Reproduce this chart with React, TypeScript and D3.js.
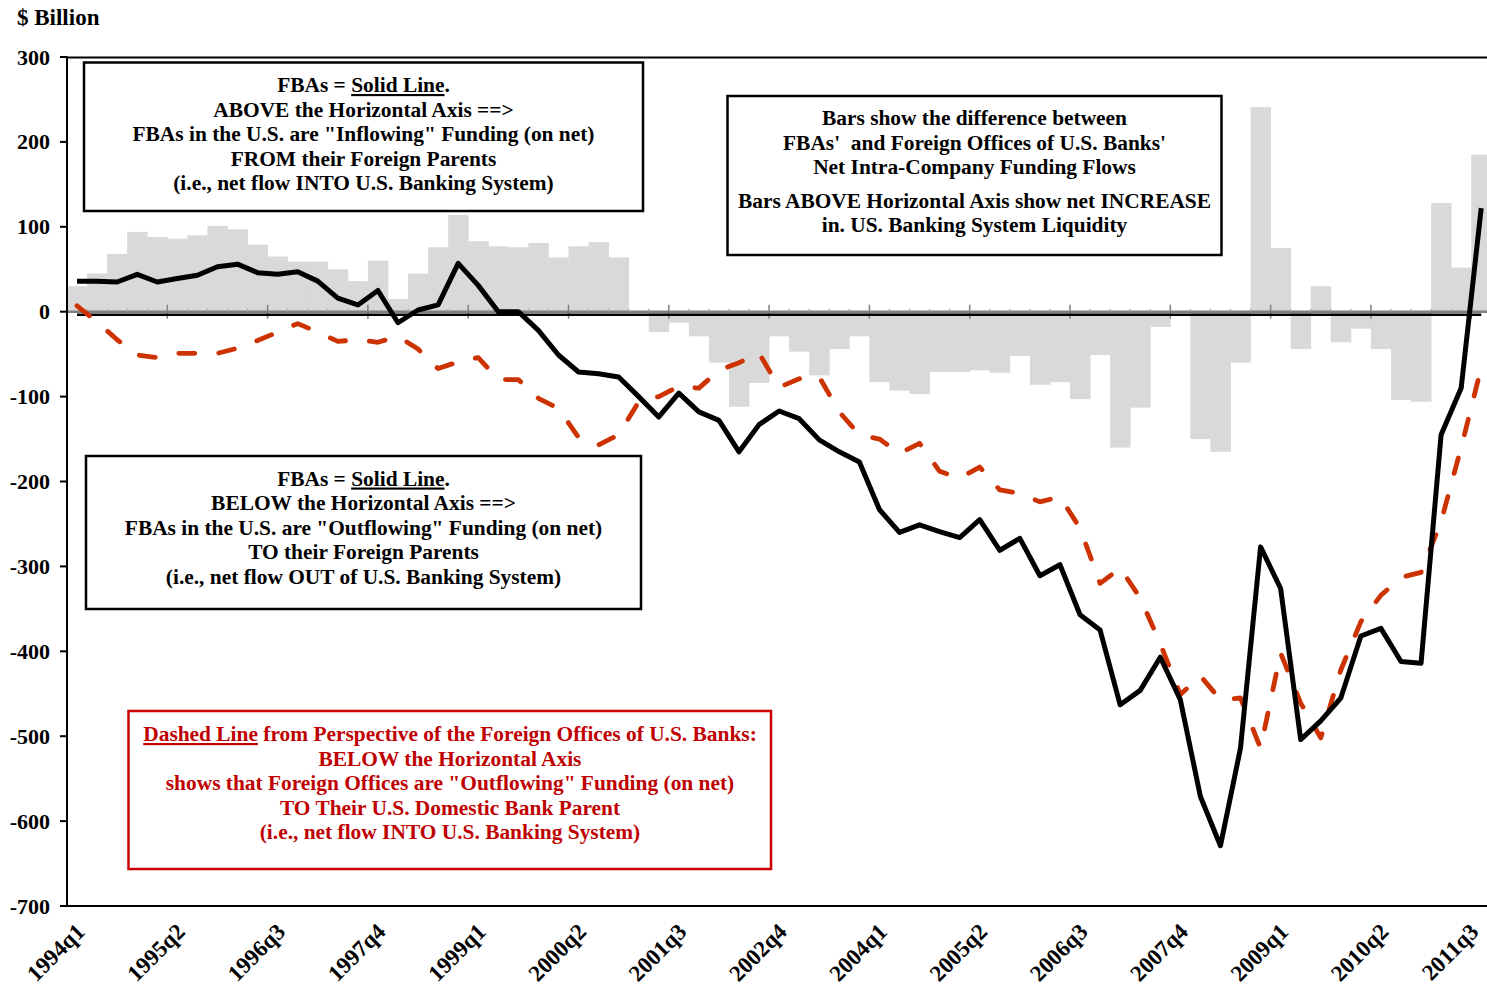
import React from 'react';
import * as d3 from 'd3';

// quarterly categories 1994q1 .. 2011q3
const quarters: string[] = d3.range(1994, 2012).flatMap(yr => [1, 2, 3, 4].map(q => `${yr}q${q}`)).slice(0, 71);

const tickLabels = ['1994q1', '1995q2', '1996q3', '1997q4', '1999q1', '2000q2', '2001q3', '2002q4',
  '2004q1', '2005q2', '2006q3', '2007q4', '2009q1', '2010q2', '2011q3'];

// bars: difference between FBAs and foreign offices of U.S. banks
const diffBars = [30, 45, 68, 94, 88, 86, 90, 101, 97, 79, 65, 59, 59, 50, 36, 60, 15, 45, 76, 114,
  83, 77, 76, 81, 64, 77, 82, 64, 0, -24, -13, -29, -60, -112, -84, -29, -47, -75, -44, -29,
  -83, -93, -97, -71, -71, -69, -72, -52, -86, -83, -103, -51, -160, -113, -18, 0, -150, -165, -60, 241,
  75, -44, 30, -36, -20, -44, -104, -106, 128, 52, 185];

// solid line: FBAs
const fbaLine = [36, 36, 35, 44, 35, 39, 43, 53, 56, 46, 44, 47, 36, 16, 8, 25, -13, 2, 8, 57,
  31, 0, 0, -22, -51, -71, -73, -77, -100, -124, -96, -118, -128, -165, -133, -117, -126, -151, -165, -177,
  -233, -260, -251, -259, -266, -245, -281, -267, -311, -298, -357, -375, -463, -446, -407, -457, -571, -629, -514, -277,
  -326, -504, -482, -455, -382, -373, -412, -414, -145, -90, 122];

// dashed line: foreign offices of U.S. banks
const foreignLine = [7, -12, -33, -51, -54, -49, -49, -49, -43, -34, -24, -14, -24, -35, -33, -36, -29, -44, -67, -59,
  -54, -80, -80, -102, -114, -148, -157, -145, -106, -100, -88, -90, -69, -60, -49, -89, -79, -77, -118, -145,
  -150, -167, -155, -188, -196, -183, -210, -214, -224, -218, -255, -320, -302, -337, -391, -451, -429, -457, -455, -514,
  -402, -461, -502, -422, -365, -334, -313, -307, -247, -160, -66];

const boxTopLines = ['ABOVE the Horizontal Axis ==>', 'FBAs in the U.S. are "Inflowing" Funding (on net)',
  'FROM their Foreign Parents', '(i.e., net flow INTO U.S. Banking System)'];
const boxBottomLines = ['BELOW the Horizontal Axis ==>', 'FBAs in the U.S. are "Outflowing" Funding (on net)',
  'TO their Foreign Parents', '(i.e., net flow OUT of U.S. Banking System)'];
const boxBarsLines = ['Bars show the difference between', "FBAs'  and Foreign Offices of U.S. Banks'",
  'Net Intra-Company Funding Flows', 'Bars ABOVE Horizontal Axis show net INCREASE', 'in. US. Banking System Liquidity'];
const boxRedLines = ['BELOW the Horizontal Axis', 'shows that Foreign Offices are "Outflowing" Funding (on net)',
  'TO Their U.S. Domestic Bank Parent', '(i.e., net flow INTO U.S. Banking System)'];

const FONT = "'Liberation Serif', 'Times New Roman', serif";

export default function App() {
  const W = 1487;
  const H = 988;
  const left = 67;
  const x = d3.scaleBand<string>().domain(quarters).range([left, left + 71 * 20.06]).padding(0);
  const bw = x.bandwidth();
  const y = d3.scaleLinear().domain([-700, 300]).range([906, 57]);
  const y0 = y(0);
  const cx = (i: number) => (x(quarters[i]) as number) + bw / 2;

  const line = d3.line<number>().x((d, i) => cx(i)).y(d => y(d));

  const textStyle = { fontFamily: FONT, fontWeight: 700, fontSize: 21.4 } as React.CSSProperties;
  const axisStyle = { fontFamily: FONT, fontWeight: 700, fontSize: 22 } as React.CSSProperties;

  return (
    <svg width={W} height={H} style={{ position: 'absolute', left: 0, top: 0, background: '#fff' }}>
      <rect width={W} height={H} fill="#fff" />

      {/* bars */}
      {diffBars.map((v, i) => (
        <rect key={i} x={x(quarters[i])} width={bw + 0.4} y={Math.min(y(v), y0)}
          height={Math.abs(y(v) - y0)} fill="#d9d9d9" />
      ))}

      {/* category axis (gray) with ticks */}
      <line x1={left} x2={W} y1={y0} y2={y0} stroke="#808080" strokeWidth={2.5} />
      {quarters.map((q, i) => {
        const xx = x(q) as number;
        const major = i % 5 === 0;
        return major
          ? <line key={q} x1={xx} x2={xx} y1={y0 - 7} y2={y0 + 7} stroke="#808080" strokeWidth={1.5} />
          : <line key={q} x1={xx} x2={xx} y1={y0 - 3} y2={y0} stroke="#a0a0a0" strokeWidth={1} />;
      })}
      <line x1={cx(0)} x2={cx(70)} y1={y0 + 3} y2={y0 + 3} stroke="#000" strokeWidth={2.5} />

      {/* frame */}
      <line x1={left} x2={W} y1={57.5} y2={57.5} stroke="#000" strokeWidth={2} />
      <line x1={left} x2={W} y1={906} y2={906} stroke="#000" strokeWidth={2} />
      <line x1={left} x2={left} y1={56.5} y2={907} stroke="#000" strokeWidth={2} />

      {/* y axis ticks and labels */}
      {y.ticks(10).map(t => (
        <g key={t}>
          <line x1={60} x2={left} y1={y(t)} y2={y(t)} stroke="#000" strokeWidth={2} />
          <text x={50} y={y(t) + 7.5} textAnchor="end" style={axisStyle}>{t}</text>
        </g>
      ))}
      <text x={17} y={25} style={{ ...axisStyle, fontSize: 23 }}>$ Billion</text>

      {/* x labels */}
      {tickLabels.map(lbl => {
        const i = quarters.indexOf(lbl);
        const px = Math.min(cx(i) + 9, W - 7);
        return (
          <text key={lbl} transform={`translate(${px},${933}) rotate(-45)`} textAnchor="end"
            style={{ ...axisStyle, fontSize: 23 }}>{lbl}</text>
        );
      })}

      {/* annotation boxes */}
      <rect x={84} y={62.5} width={559} height={148.5} fill="#fff" stroke="#000" strokeWidth={2.5} />
      <text x={363.5} y={92} textAnchor="middle" style={textStyle}>
        FBAs = <tspan style={{ textDecoration: 'underline' }}>Solid Line</tspan>.
      </text>
      {boxTopLines.map((s, i) => (
        <text key={s} x={363.5} y={116.5 + i * 24.5} textAnchor="middle" style={textStyle}>{s}</text>
      ))}

      <rect x={727.5} y={96} width={494} height={159} fill="#fff" stroke="#000" strokeWidth={2.5} />
      {boxBarsLines.map((s, i) => (
        <text key={s} x={974.5} y={125 + i * 24.6 + (i >= 3 ? 9 : 0)} textAnchor="middle"
          style={{ ...textStyle, whiteSpace: 'pre' }}>{s}</text>
      ))}

      <rect x={86} y={456} width={555} height={153} fill="#fff" stroke="#000" strokeWidth={2.5} />
      <text x={363.5} y={485.5} textAnchor="middle" style={textStyle}>
        FBAs = <tspan style={{ textDecoration: 'underline' }}>Solid Line</tspan>.
      </text>
      {boxBottomLines.map((s, i) => (
        <text key={s} x={363.5} y={510 + i * 24.5} textAnchor="middle" style={textStyle}>{s}</text>
      ))}

      <rect x={128.5} y={711} width={642.5} height={158} fill="#fff" stroke="#cc0000" strokeWidth={2.5} />
      <text x={450} y={741} textAnchor="middle" style={{ ...textStyle, fill: '#c00000' }}>
        <tspan style={{ textDecoration: 'underline' }}>Dashed Line</tspan> from Perspective of the Foreign Offices of U.S. Banks:
      </text>
      {boxRedLines.map((s, i) => (
        <text key={s} x={450} y={765.5 + i * 24.5} textAnchor="middle" style={{ ...textStyle, fill: '#c00000' }}>{s}</text>
      ))}

      {/* lines */}
      <path d={line(foreignLine) as string} fill="none" stroke="#cc3300" strokeWidth={4.8}
        strokeDasharray="16 24" strokeLinecap="round" strokeLinejoin="round" />
      <path d={line(fbaLine) as string} fill="none" stroke="#000" strokeWidth={5} strokeLinejoin="round" />
    </svg>
  );
}
